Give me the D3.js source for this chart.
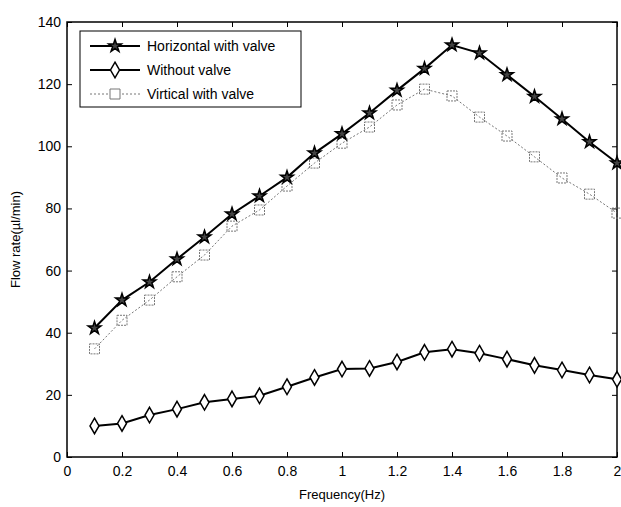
<!DOCTYPE html>
<html>
<head>
<meta charset="utf-8">
<script src="https://cdn.jsdelivr.net/npm/d3@7"></script>
<style>
  body { margin: 0; background: #fff; }
  text { font-family: "Liberation Sans", Arial, sans-serif; }
</style>
</head>
<body>
<div id="chart"></div>
<script>
// data
const freq = [0.1, 0.2, 0.3, 0.4, 0.5, 0.6, 0.7, 0.8, 0.9, 1.0, 1.1, 1.2, 1.3, 1.4, 1.5, 1.6, 1.7, 1.8, 1.9, 2.0];
const horizontal = [41.5, 50.5, 56.3, 63.7, 70.8, 78.2, 84, 90, 97.8, 104, 110.7, 118, 125, 132.6, 130, 123, 116, 108.8, 101.4, 94.6];
const withoutValve = [10, 10.8, 13.5, 15.4, 17.6, 18.7, 19.7, 22.6, 25.6, 28.3, 28.5, 30.6, 33.7, 34.7, 33.4, 31.5, 29.5, 28, 26.4, 25];
const vertical = [34.8, 44, 50.5, 58, 65, 74.3, 79.5, 87.2, 94.6, 101, 106.2, 113.3, 118.4, 116.2, 109.4, 103.3, 96.6, 89.8, 84.6, 78.5];
const xTicks = [0, 0.2, 0.4, 0.6, 0.8, 1, 1.2, 1.4, 1.6, 1.8, 2];
const yTicks = [0, 20, 40, 60, 80, 100, 120, 140];
const seriesNames = ["Horizontal with valve", "Without valve", "Virtical with valve"];

const width = 621, height = 507;
const margin = {left: 67, right: 4, top: 22, bottom: 50};

const svg = d3.select('#chart').append('svg')
  .attr('width', width)
  .attr('height', height);

const x = d3.scaleLinear().domain([0, 2]).range([margin.left, width - margin.right]);
const y = d3.scaleLinear().domain([0, 140]).range([height - margin.bottom, margin.top]);

// cadre + graduations vers l'intérieur (style MATLAB)
const fmt = d => d === 0 ? "0" : String(d);
svg.append('g')
  .attr('transform', `translate(0,${y(0)})`)
  .call(d3.axisBottom(x).tickValues(xTicks).tickFormat(fmt).tickSizeInner(-5).tickSizeOuter(0).tickPadding(9))
  .call(g => g.select('.domain').remove());
svg.append('g')
  .attr('transform', `translate(${x(0)},0)`)
  .call(d3.axisLeft(y).tickValues(yTicks).tickFormat(fmt).tickSizeInner(-5).tickSizeOuter(0).tickPadding(6))
  .call(g => g.select('.domain').remove());
svg.append('g')
  .attr('transform', `translate(0,${y(140)})`)
  .call(d3.axisTop(x).tickValues(xTicks).tickFormat('').tickSizeInner(-5).tickSizeOuter(0))
  .call(g => g.select('.domain').remove());
svg.append('g')
  .attr('transform', `translate(${x(2)},0)`)
  .call(d3.axisRight(y).tickValues(yTicks).tickFormat('').tickSizeInner(-5).tickSizeOuter(0))
  .call(g => g.select('.domain').remove());

svg.selectAll('.tick text').attr('font-size', 14).attr('fill', '#000');
svg.selectAll('.tick line').attr('stroke', '#000');

svg.append('rect')
  .attr('x', x(0)).attr('y', y(140))
  .attr('width', x(2) - x(0)).attr('height', y(0) - y(140))
  .attr('fill', 'none').attr('stroke', '#000').attr('stroke-width', 1.5);

// libellés des axes
svg.append('text')
  .attr('x', x(1)).attr('y', height - 8)
  .attr('text-anchor', 'middle').attr('font-size', 13)
  .text('Frequency(Hz)');
svg.append('text')
  .attr('transform', `translate(20,${y(70)}) rotate(-90)`)
  .attr('text-anchor', 'middle').attr('font-size', 13)
  .text('Flow rate(µl/min)');

const series = [
  {name: seriesNames[0], values: horizontal, color: '#000', width: 2, dash: null, symbol: d3.symbolStar, size: 50, fill: '#444'},
  {name: seriesNames[1], values: withoutValve, color: '#000', width: 2, dash: null, symbol: d3.symbolDiamond, size: 70, fill: '#fff'},
  {name: seriesNames[2], values: vertical, color: '#777', width: 1, dash: '2,2', symbol: d3.symbolSquare, size: 100, fill: 'none'}
];

const line = d3.line()
  .x(d => x(d[0]))
  .y(d => y(d[1]));

// dessine du dernier au premier pour que les étoiles restent au-dessus
series.slice().reverse().forEach(s => {
  const pts = freq.map((f, i) => [f, s.values[i]]);
  svg.append('path')
    .datum(pts)
    .attr('d', line)
    .attr('fill', 'none')
    .attr('stroke', s.color)
    .attr('stroke-width', s.width)
    .attr('stroke-dasharray', s.dash);
  svg.append('g').selectAll('path')
    .data(pts)
    .join('path')
    .attr('d', d3.symbol().type(s.symbol).size(s.size))
    .attr('transform', d => `translate(${x(d[0])},${y(d[1])})`)
    .attr('fill', s.fill)
    .attr('stroke', s.color)
    .attr('stroke-width', s.width === 2 ? 1.5 : 1)
    .attr('stroke-dasharray', s.dash ? '2,1' : null);
});

// légende
const legend = svg.append('g');
legend.append('rect')
  .attr('x', 80).attr('y', 31).attr('width', 221).attr('height', 76)
  .attr('fill', '#fff').attr('stroke', '#000').attr('stroke-width', 1);
series.forEach((s, i) => {
  const ly = 46 + i * 24;
  legend.append('line')
    .attr('x1', 90).attr('x2', 140).attr('y1', ly).attr('y2', ly)
    .attr('stroke', s.color).attr('stroke-width', s.width)
    .attr('stroke-dasharray', s.dash);
  legend.append('path')
    .attr('d', d3.symbol().type(s.symbol).size(s.size))
    .attr('transform', `translate(115,${ly})`)
    .attr('fill', s.fill === 'none' ? '#fff' : s.fill)
    .attr('stroke', s.color)
    .attr('stroke-width', s.width === 2 ? 1.5 : 1);
  legend.append('text')
    .attr('x', 147).attr('y', ly).attr('dy', '0.35em')
    .attr('font-size', 14)
    .text(s.name);
});
</script>
</body>
</html>
